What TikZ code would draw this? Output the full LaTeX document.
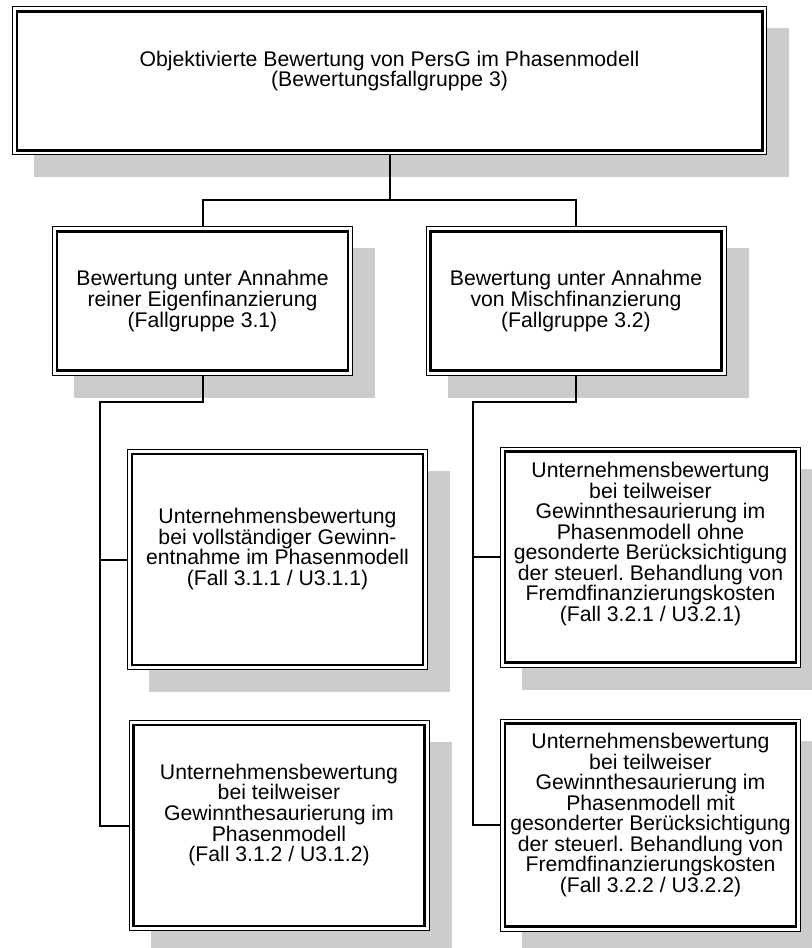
\documentclass[tikz,border=0pt]{standalone}
\usepackage{fontspec}
\setmainfont{Liberation Sans}
\usepackage{tikz}
\usetikzlibrary{positioning, backgrounds, calc}
\definecolor{shadowgray}{RGB}{204,204,204}
\frenchspacing

\begin{document}
\begin{tikzpicture}[
        x=0.75pt, y=-0.75pt,
        box/.style={draw, line width=0.75pt, fill=white, align=center, inner sep=0pt,
            font=\fontsize{15.9}{15.4}\selectfont, minimum width=225pt,
            path picture={\draw[line width=1.8pt] ([shift={(3.4pt,3.4pt)}]path picture bounding box.south west) rectangle ([shift={(-3.4pt,-3.4pt)}]path picture bounding box.north east);}},
        link/.style={line width=1.5pt}
    ]
        \useasboundingbox (0,0) rectangle (812,948);

        \node[box, minimum width=566pt, minimum height=111pt, text depth=18pt] (top) at (389.5,81) {Objektivierte Bewertung von PersG im Phasenmodell\\(Bewertungsfallgruppe 3)};
        \node[box, minimum height=111pt] (ga) at (202.5,301) {Bewertung unter Annahme\\reiner Eigenfinanzierung\\(Fallgruppe 3.1)};
        \node[box, minimum height=111pt] (gb) at (576,301) {Bewertung unter Annahme\\von Mischfinanzierung\\(Fallgruppe 3.2)};
        \node[box, minimum height=165pt, text depth=19pt] (a1) at (277.5,559.5) {Unternehmensbewertung\\bei vollständiger Gewinn-\\entnahme im Phasenmodell\\(Fall 3.1.1 / U3.1.1)};
        \node[box, minimum height=157.5pt, text depth=19pt] (a2) at (279,825.5) {Unternehmensbewertung\\bei teilweiser\\Gewinnthesaurierung im\\Phasenmodell\\(Fall 3.1.2 / U3.1.2)};
        \node[box, minimum height=165pt, text depth=23pt] (b1) at (650.5,557) {Unternehmensbewertung\\bei teilweiser\\Gewinnthesaurierung im\\Phasenmodell ohne\\gesonderte Berücksichtigung\\der steuerl. Behandlung von\\Fremdfinanzierungskosten\\(Fall 3.2.1 / U3.2.1)};
        \node[box, minimum height=159pt, text depth=18.5pt] (b2) at (650.5,825) {Unternehmensbewertung\\bei teilweiser\\Gewinnthesaurierung im\\Phasenmodell mit\\gesonderter Berücksichtigung\\der steuerl. Behandlung von\\Fremdfinanzierungskosten\\(Fall 3.2.2 / U3.2.2)};

        % shadows
        \begin{scope}[on background layer]
            \foreach \n in {top, ga, gb, a1, a2, b1, b2}
                \fill[shadowgray] ([shift={(16.5pt,-16.5pt)}]\n.south west) rectangle ([shift={(16.5pt,-16.5pt)}]\n.north east);
        \end{scope}

        \coordinate (topjoin) at (389.5,200);
        \coordinate (ajoin) at (100,402);
        \coordinate (bjoin) at (473,402);

        \draw[link] (top.south) -- (topjoin);
        \draw[link] (ga.north) |- (topjoin) -| (gb.north);
        \draw[link] (ga.south) |- (ajoin) |- (a2.west);
        \draw[link] (ajoin |- a1.west) -- (a1.west);
        \draw[link] (gb.south) |- (bjoin) |- (b2.west);
        \draw[link] (bjoin |- b1.west) -- (b1.west);
    \end{tikzpicture}
\end{document}
